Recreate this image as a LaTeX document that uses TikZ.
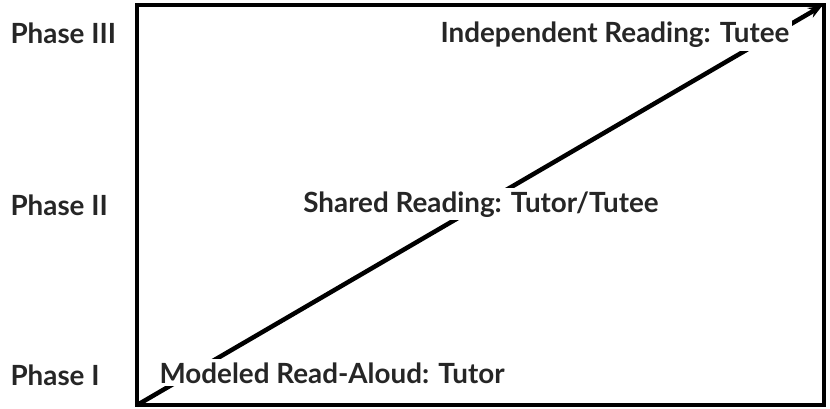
\documentclass[tikz,border=0pt]{standalone}
\usepackage{fontspec}
\setmainfont{Lato}
\usepackage{tikz}
\usetikzlibrary{arrows.meta, positioning}

\begin{document}
\begin{tikzpicture}[
x=1pt, y=1pt,
frame/.style={rectangle, draw, line width=4.5pt, minimum width=687pt, minimum height=400pt, inner sep=0pt},
phase/.style={font=\fontsize{27.8}{30}\selectfont\bfseries, text=black!85, anchor=base west},
label/.style={font=\fontsize{27.8}{30}\selectfont\bfseries, text=black!85, fill=white, inner sep=3pt, anchor=base},
arrow/.style={-{Stealth[length=14pt, width=11pt]}, line width=4.5pt}
]
\useasboundingbox (0,0) rectangle (830,408);

\node[frame] (frame) at (480.5,203) {};

\draw[arrow] ([shift={(2,2)}]frame.south west) -- ([shift={(-4,-3)}]frame.north east);

\node[label] (indep) at (615,365) {Independent Reading: Tutee};
\node[label] (shared) at (481,196) {Shared Reading: Tutor/Tutee};
\node[label] (modeled) at (332,25) {Modeled Read-Aloud: Tutor};

\node[phase] (p3) at (7,364) {Phase III};
\node[phase] (p2) at (7,193) {Phase II};
\node[phase] (p1) at (7,23) {Phase I};

\end{tikzpicture}
\end{document}
